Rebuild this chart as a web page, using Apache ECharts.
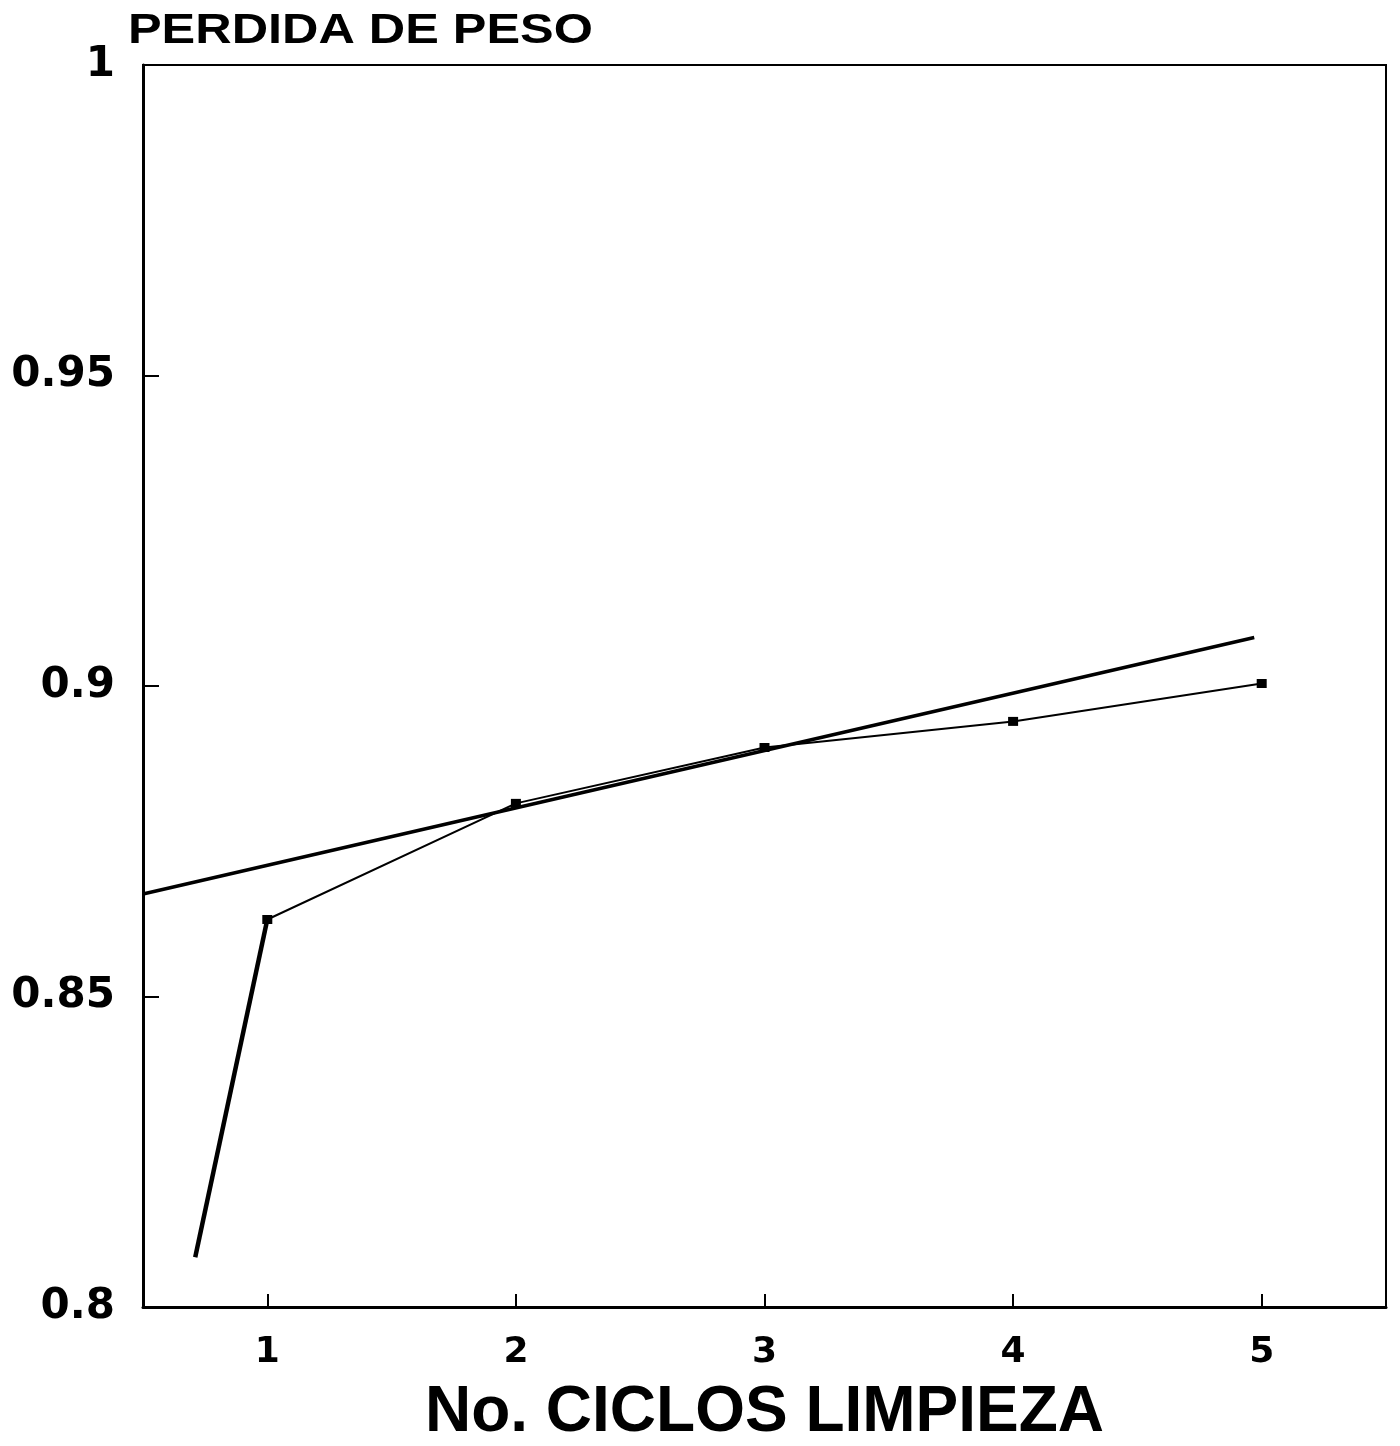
<!DOCTYPE html>
<html>
<head>
<meta charset="utf-8">
<script src="https://cdn.jsdelivr.net/npm/echarts@6/dist/echarts.min.js"></script>
<style>
  html, body { margin: 0; padding: 0; background: #ffffff; }
  #chart { width: 1400px; height: 1446px; }
</style>
</head>
<body>
<div id="chart"></div>
<script>
// Cleaning cycles and measured weight ratio
const ciclos = [1, 2, 3, 4, 5];
const perdida = [0.8624, 0.8811, 0.8901, 0.8943, 0.9004];

// Straight fitted trend line (end points)
const tendenciaX = [0.5, 4.97];
const tendenciaY = [0.8665, 0.9078];

// Steep lead-in segment ending at the first cycle
const inicioX = [0.71, 1];
const inicioY = [0.808, 0.8624];

// Axis ticks
const xTicks = [1, 2, 3, 4, 5];
const yMin = 0.8, yMax = 1, yStep = 0.05;

const zip = (a, b) => a.map((v, i) => [v, b[i]]);

const chart = echarts.init(document.getElementById('chart'), null, { renderer: 'canvas' });

const numFont = 'DejaVu Sans';

chart.setOption({
  backgroundColor: '#ffffff',
  animation: false,
  grid: {
    left: 143, right: 14, top: 65, bottom: 139,
    outerBoundsMode: 'none',
    containLabel: false,
    show: true, borderColor: '#000', borderWidth: 2, backgroundColor: 'transparent'
  },
  graphic: [{
    type: 'text',
    left: 128, top: 10,
    scaleX: 1.2,
    style: {
      text: 'PERDIDA DE PESO',
      font: 'bold 42px "Liberation Sans", Arial, sans-serif',
      fill: '#000'
    }
  }],
  xAxis: {
    type: 'value',
    min: 0.5, max: 5.5,
    splitLine: { show: false },
    axisLine: { lineStyle: { color: '#000', width: 3 } },
    axisTick: { inside: true, length: 13, customValues: xTicks, lineStyle: { color: '#000', width: 2 } },
    axisLabel: {
      customValues: xTicks, margin: 28,
      color: '#000', fontFamily: numFont, fontWeight: 'bold', fontSize: 36
    },
    name: 'No. CICLOS LIMPIEZA',
    nameLocation: 'middle',
    nameGap: 74,
    nameTextStyle: { color: '#000', fontFamily: '"Liberation Sans", Arial, sans-serif', fontWeight: 'bold', fontSize: 64 }
  },
  yAxis: {
    type: 'value',
    min: yMin, max: yMax, interval: yStep,
    splitLine: { show: false },
    axisLine: { lineStyle: { color: '#000', width: 3 } },
    axisTick: { inside: true, length: 16, lineStyle: { color: '#000', width: 2 } },
    axisLabel: {
      margin: 28,
      padding: [6, 0, 0, 0],
      color: '#000', fontFamily: numFont, fontWeight: 'bold', fontSize: 42,
      formatter: v => String(parseFloat(v.toFixed(2)))
    }
  },
  series: [
    {
      name: 'tendencia',
      type: 'line',
      data: zip(tendenciaX, tendenciaY),
      symbol: 'none',
      lineStyle: { color: '#000', width: 3.5 },
      z: 2
    },
    {
      name: 'inicio',
      type: 'line',
      data: zip(inicioX, inicioY),
      symbol: 'none',
      lineStyle: { color: '#000', width: 4.5 },
      z: 2
    },
    {
      name: 'perdida',
      type: 'line',
      data: zip(ciclos, perdida),
      symbol: 'rect',
      symbolSize: [10, 9],
      itemStyle: { color: '#000' },
      lineStyle: { color: '#000', width: 2 },
      z: 3
    }
  ]
});
</script>
</body>
</html>
